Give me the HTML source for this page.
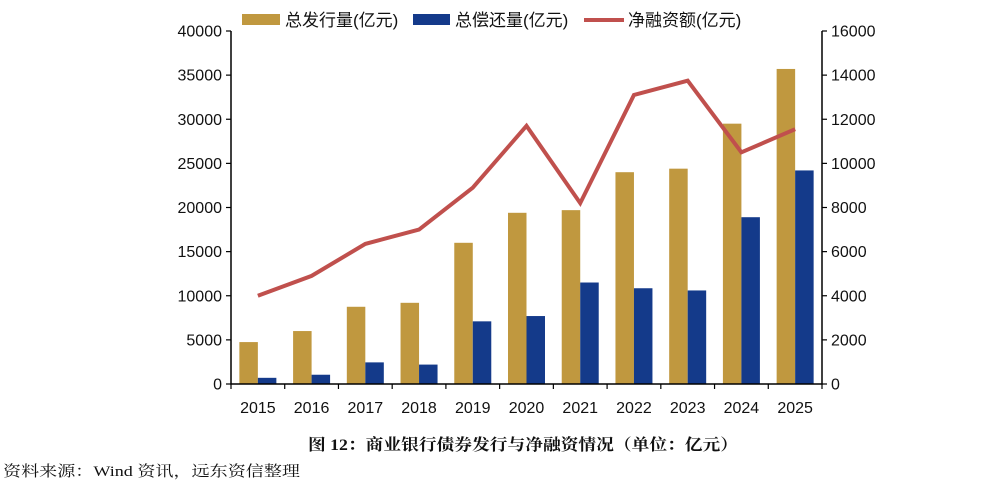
<!DOCTYPE html>
<html><head><meta charset="utf-8"><style>
body{margin:0;background:#fff;width:1003px;height:492px;overflow:hidden}
text{font-family:"Liberation Sans","Noto Sans CJK SC",sans-serif}
.serif{font-family:"Liberation Serif","Noto Serif CJK SC",serif}
</style></head><body>
<svg id="c" width="1003" height="492" xmlns="http://www.w3.org/2000/svg"></svg>
<script>
const categories=["2015","2016","2017","2018","2019","2020","2021","2022","2023","2024","2025"];
const issuance=[4750,6000,8750,9200,16000,19400,19700,24000,24400,29500,35700];
const repayment=[700,1050,2450,2200,7100,7700,11500,10850,10600,18900,24200];
const netFinancing=[4000,4900,6350,7000,8900,11700,8200,13100,13750,10500,11550];
const leftTicks=[0,5000,10000,15000,20000,25000,30000,35000,40000];
const rightTicks=[0,2000,4000,6000,8000,10000,12000,14000,16000];
const NS="http://www.w3.org/2000/svg";
const svg=document.getElementById('c');
const x0=231,x1=822,y0=384,y1=31;
const band=(x1-x0)/categories.length;
const yL=v=>y0-(v/40000)*(y0-y1);
const yR=v=>y0-(v/16000)*(y0-y1);
const cx=i=>x0+band*(i+0.5);
function el(t,a,txt){const e=document.createElementNS(NS,t);for(const k in a)e.setAttribute(k,a[k]);if(txt!==undefined)e.textContent=txt;svg.appendChild(e);return e;}
issuance.forEach((v,i)=>{const r=el('rect',{x:cx(i)-18.5,y:yL(v),width:18.5,height:y0-yL(v),fill:'#C0983F'});

});
repayment.forEach((v,i)=>{const r=el('rect',{x:cx(i),y:yL(v),width:18.5,height:y0-yL(v),fill:'#143A8A'});

});
const pl=el('polyline',{points:netFinancing.map((v,i)=>cx(i)+','+yR(v)).join(' '),fill:'none',stroke:'#C0504D','stroke-width':4,'stroke-linejoin':'miter'});


const ax=el('path',{d:`M${x0},${y1}V${y0}H${x1}V${y1}`,fill:'none',stroke:'#000','stroke-width':1.5});


leftTicks.forEach(v=>{el('line',{x1:x0-5,x2:x0,y1:yL(v),y2:yL(v),stroke:'#000','stroke-width':1.2});
const t=el('text',{x:x0-9,y:yL(v)+5.5,'text-anchor':'end','font-size':16,fill:'#111'},v);

});
rightTicks.forEach(v=>{el('line',{x1:x1,x2:x1+5,y1:yR(v),y2:yR(v),stroke:'#000','stroke-width':1.2});
const t=el('text',{x:x1+9,y:yR(v)+5.5,'text-anchor':'start','font-size':16,fill:'#111'},v);

});
for(let i=0;i<=categories.length;i++)el('line',{x1:x0+band*i,x2:x0+band*i,y1:y0,y2:y0+5,stroke:'#000','stroke-width':1.2});
categories.forEach((c,i)=>{const t=el('text',{x:cx(i),y:413,'text-anchor':'middle','font-size':16,fill:'#111'},c);

});
let g=el('rect',{x:242,y:14,width:38,height:11,fill:'#C0983F'});

let t1=el('text',{x:285,y:26,'font-size':17,fill:'#111'},'总发行量(亿元)');

g=el('rect',{x:413,y:14,width:37,height:11,fill:'#143A8A'});

t1=el('text',{x:455,y:26,'font-size':17,fill:'#111'},'总偿还量(亿元)');

g=el('line',{x1:584,x2:624,y1:20,y2:20,stroke:'#C0504D','stroke-width':4});

t1=el('text',{x:628,y:26,'font-size':17,fill:'#111'},'净融资额(亿元)');

t1=el('text',{x:523,y:450,'text-anchor':'middle','font-size':16,'font-weight':'bold',fill:'#111',class:'serif',textLength:430,lengthAdjust:'spacingAndGlyphs'},'图 12：商业银行债券发行与净融资情况（单位：亿元）');

t1=el('text',{x:3,y:476,'font-size':15,fill:'#111',class:'serif',textLength:297,lengthAdjust:'spacingAndGlyphs'},'资料来源：Wind 资讯，远东资信整理');

</script>
</body></html>
